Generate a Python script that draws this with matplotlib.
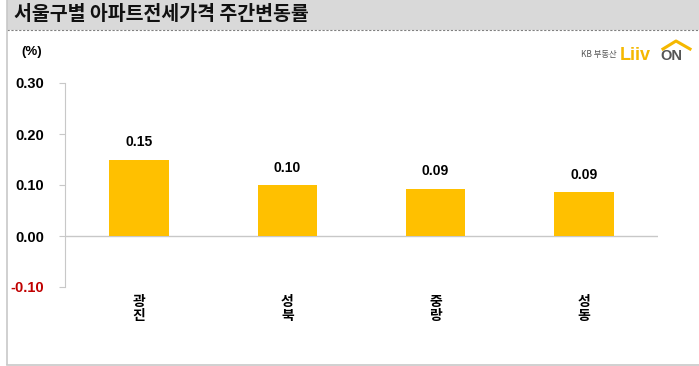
import numpy as np
import matplotlib
matplotlib.use('Agg')
import matplotlib.pyplot as plt
from matplotlib.patches import Rectangle

districts = ['광진', '성북', '중랑', '성동']
changes = [0.15, 0.10, 0.093, 0.086]
yticks = [-0.10, 0.00, 0.10, 0.20, 0.30]

W, H = 699, 366
fig = plt.figure(figsize=(W/100, H/100), dpi=100)
fam = ['Liberation Sans', 'DejaVu Sans']
kfam = ['Noto Sans CJK KR', 'DejaVu Sans']

def fx(px): return px/W
def fy(py): return 1-py/H

# frame: title band + left/bottom border
fig.patches.append(Rectangle((fx(7), fy(30)), 1-fx(7), 30/H, transform=fig.transFigure,
                             facecolor='#d9d9d9', edgecolor='none', zorder=0))
fig.add_artist(plt.Line2D([fx(7), 1], [fy(30), fy(30)], transform=fig.transFigure,
                          color='#808080', lw=0.8, ls=(0, (2, 1.5))))
fig.add_artist(plt.Line2D([fx(7), fx(7)], [fy(0), fy(364)], transform=fig.transFigure,
                          color='#c8c8c8', lw=1.2))
fig.add_artist(plt.Line2D([fx(7), 1], [fy(364.5), fy(364.5)], transform=fig.transFigure,
                          color='#c8c8c8', lw=1.2))
fig.text(fx(14), fy(15), '서울구별 아파트전세가격 주간변동률', family=kfam, fontsize=14,
         fontweight='bold', va='center', ha='left', color='#111111')

# logo
fig.text(fx(617), fy(54), 'KB 부동산', family=kfam, fontsize=6, color='#555555', ha='right', va='center')
fig.text(fx(620), fy(55), 'Liiv', family=['Liberation Sans'], fontsize=13, fontweight='bold',
         color='#f5b800', ha='left', va='center')
fig.text(fx(660), fy(56), 'ON', family=['Liberation Sans'], fontsize=10.5, fontweight='bold',
         color='#555555', ha='left', va='center')
fig.add_artist(plt.Line2D([fx(663), fx(676), fx(690)], [fy(49), fy(41), fy(49)],
                          transform=fig.transFigure, color='#f5b800', lw=2.2))

ax = fig.add_axes([fx(65), fy(287), fx(658)-fx(65), fy(83)-fy(287)])
x = np.arange(len(districts))
ax.bar(x, changes, width=0.4, color='#ffc000', zorder=2)
ax.set_xlim(-0.5, len(districts)-0.5)
ax.set_ylim(-0.10, 0.30)
ax.axhline(0, color='#c8c8c8', lw=1, zorder=1)

for s in ['top', 'right', 'bottom']:
    ax.spines[s].set_visible(False)
ax.spines['left'].set_color('#c8c8c8')
ax.set_yticks(yticks)
ax.set_yticklabels([f'{v:.2f}' for v in yticks], family=fam, fontsize=10.5, fontweight='bold')
ax.get_yticklabels()[0].set_color('#c00000')
ax.tick_params(axis='y', length=4, color='#c8c8c8', pad=11)
ax.set_xticks([])

for xi, v in zip(x, changes):
    ax.text(xi, v + 0.02, f'{v:.2f}', family=fam, fontsize=10, fontweight='bold',
            ha='center', va='bottom')

for xi, name in zip(x, districts):
    ax.text(xi, -0.115, '\n'.join(name), family=kfam, fontsize=10, fontweight='bold',
            ha='center', va='top', linespacing=1.05)

fig.text(fx(21), fy(52), '(%)', family=fam, fontsize=9.5, fontweight='bold', va='center')

fig.savefig('out.png', dpi=100)
